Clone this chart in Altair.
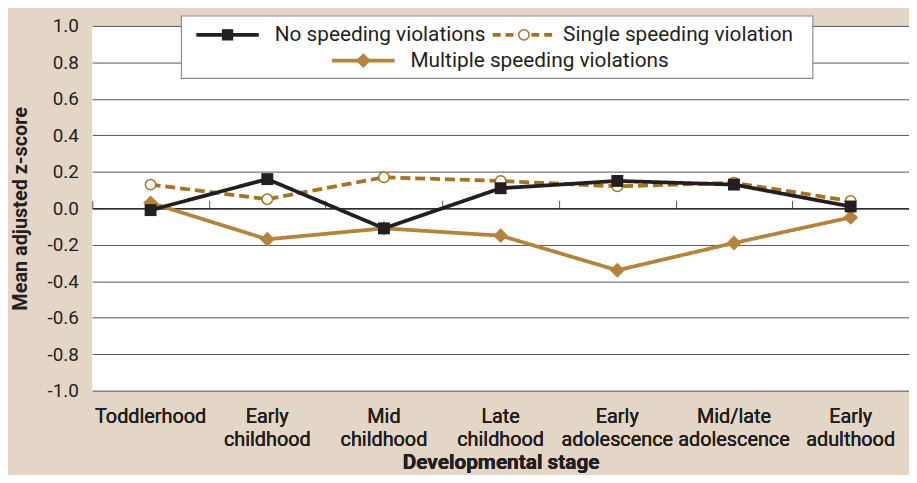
import altair as alt
import pandas as pd

stages = ["Toddlerhood", "Early childhood", "Mid childhood", "Late childhood",
          "Early adolescence", "Mid/late adolescence", "Early adulthood"]
no_speeding = [-0.01, 0.16, -0.11, 0.11, 0.15, 0.13, 0.01]
single_speeding = [0.13, 0.05, 0.17, 0.15, 0.12, 0.14, 0.04]
multiple_speeding = [0.03, -0.17, -0.11, -0.15, -0.34, -0.19, -0.05]
series_names = ["No speeding violations", "Single speeding violation", "Multiple speeding violations"]
y_ticks = [-1.0, -0.8, -0.6, -0.4, -0.2, 0.0, 0.2, 0.4, 0.6, 0.8, 1.0]

FONT = "Roboto"
BLACK = "#231f20"
DASHED = "#a8721f"
MULTI = "#b5833b"
BG = "#e3d6c6"
TXT = "#231f20"

df_no = pd.DataFrame({"stage": stages, "value": no_speeding})
df_single = pd.DataFrame({"stage": stages, "value": single_speeding})
df_multi = pd.DataFrame({"stage": stages, "value": multiple_speeding})

x_scale = alt.Scale(domain=stages, paddingInner=0, paddingOuter=0)
y_scale = alt.Scale(domain=[-1, 1], nice=False, zero=False)

x_main = alt.X("stage:N", sort=stages, scale=x_scale,
               axis=alt.Axis(orient="bottom", title="Developmental stage", ticks=False, domain=False,
                             grid=False, labelAngle=0, labelFontSize=20, labelFont=FONT,
                             labelFontWeight="normal",
                             labelColor=TXT, labelLineHeight=23, labelPadding=16,
                             labelExpr="split(datum.label, ' ')",
                             titleFont=FONT, titleFontSize=21, titleFontWeight="bold",
                             titleColor=TXT, titleBaseline="alphabetic", titleY=79))
y_main = alt.Y("value:Q", scale=y_scale,
               axis=alt.Axis(values=y_ticks, title="Mean adjusted z-score", domain=False, ticks=False,
                             grid=True, gridColor="#555555", gridWidth=1,
                             labelExpr="replace(format(datum.value, '.1f'), '\u2212', '-')",
                             labelFontSize=19, labelFont=FONT, labelColor=TXT, labelPadding=14,
                             labelFontWeight="normal",
                             titleFont=FONT, titleFontSize=20, titleFontWeight="bold",
                             titleColor=TXT, titlePadding=17))

# zero-line axis with band-boundary ticks
zero_axis = alt.Chart(df_no).mark_point(opacity=0).encode(
    x=alt.X("stage:N", sort=stages, scale=x_scale,
            axis=alt.Axis(orient="top", offset=-184, labels=False, tickBand="extent", tickSize=8,
                          tickColor="#555555", domainColor="#111111", domainWidth=1.2,
                          grid=False, title="")),
    y=y_main,
)

def series(df, color, shape, size, dash, filled, fill):
    line = alt.Chart(df).mark_line(color=color, strokeWidth=3.8, strokeDash=dash).encode(
        x=x_main, y=y_main)
    pts = alt.Chart(df).mark_point(shape=shape, size=size, filled=True, fill=fill,
                                   stroke=color, strokeWidth=1.5 if not filled else 0,
                                   opacity=1).encode(x=x_main, y=y_main)
    return line + pts

multi_layer = series(df_multi, MULTI, "diamond", 225, [1, 0], True, MULTI)
single_layer = series(df_single, DASHED, "circle", 110, [10, 5], False, "white")
no_layer = series(df_no, BLACK, "square", 144, [1, 0], True, BLACK)

one = pd.DataFrame({"k": [0]})
legend_box = alt.Chart(one).mark_rect(fill="white", stroke="#8c8c8c", strokeWidth=1.2).encode(
    x=alt.value(90), x2=alt.value(727), y=alt.value(-10), y2=alt.value(53))

def legend_item(x0, yv, text_x, color, dash, shape, size, fill, strokew, label):
    rule = alt.Chart(one).mark_rule(color=color, strokeWidth=3.8, strokeDash=dash).encode(
        x=alt.value(x0), x2=alt.value(x0 + 63), y=alt.value(yv))
    pt = alt.Chart(one).mark_point(shape=shape, size=size, filled=True, fill=fill, stroke=color,
                                   strokeWidth=strokew, opacity=1).encode(
        x=alt.value(x0 + 31.5), y=alt.value(yv))
    txt = alt.Chart(one).mark_text(align="left", baseline="middle", font=FONT, fontSize=21,
                                   color=TXT).encode(
        x=alt.value(text_x), y=alt.value(yv), text=alt.value(label))
    return rule + pt + txt

leg1 = legend_item(105, 9, 184, BLACK, [1, 0], "square", 130, BLACK, 0, series_names[0])
leg2 = legend_item(404, 9, 475, DASHED, [8, 5], "circle", 110, "white", 1.5, series_names[1])
leg3 = legend_item(242, 35, 321, MULTI, [1, 0], "diamond", 225, MULTI, 0, series_names[2])

chart = alt.layer(
    zero_axis, multi_layer, single_layer, no_layer, legend_box, leg1, leg2, leg3
).properties(
    width=824, height=368,
    autosize=alt.AutoSizeParams(type="none"),
    padding={"left": 85, "top": 16, "right": 0, "bottom": 83},
    background=BG,
).configure_view(fill="white", strokeWidth=0)

chart.save("out.html", embed_options={"renderer": "svg", "actions": False})
